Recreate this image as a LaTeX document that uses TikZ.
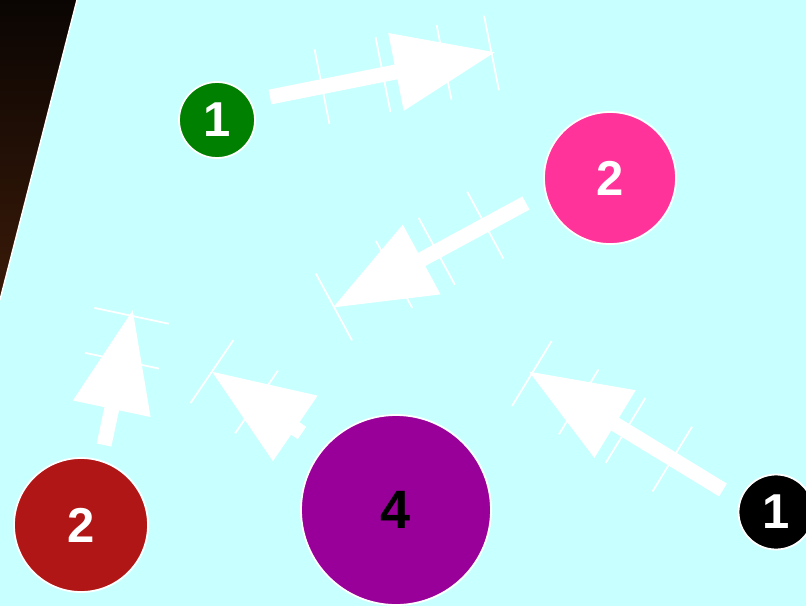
\documentclass[tikz,border=0pt]{standalone}
\usepackage{fontspec}
\setmainfont{Liberation Sans}
\usetikzlibrary{calc,arrows.meta}
\definecolor{sky}{RGB}{200,255,255}
\definecolor{leafgreen}{RGB}{0,128,0}
\definecolor{rose}{RGB}{255,51,153}
\definecolor{brick}{RGB}{176,22,22}
\definecolor{plum}{RGB}{153,0,153}
\definecolor{earthtop}{RGB}{10,5,3}
\definecolor{earthbot}{RGB}{58,26,8}
\tikzset{
  ball/.style={circle,draw=white,line width=1.8pt,inner sep=0pt,text=white,
    font=\fontsize{49}{49}\selectfont\bfseries},
  vec/.style={white,line width=15pt,-{Triangle[length=102pt,width=75pt]}},
  tick/.style={white,line width=1.8pt}
}

\begin{document}
\begin{tikzpicture}[x=1pt,y=-1pt]
  \useasboundingbox (0,0) rectangle (806,606);
  \fill[sky] (0,0) rectangle (806,606);
  \shade[top color=earthtop,bottom color=earthbot] (0,0)--(77,0)--(0,300)--cycle;
  \draw[white,line width=1.5pt] (77,0)--(0,300);
  % vectors: tail T, head H
  \coordinate (T1) at (270,97);  \coordinate (H1) at (496,52);
  \coordinate (T2) at (526,203); \coordinate (H2) at (332,308);
  \coordinate (T3) at (104,445); \coordinate (H3) at (133,309);
  \coordinate (T4) at (302,433); \coordinate (H4) at (211,371);
  \coordinate (T5) at (723,490); \coordinate (H5) at (528,371);
  \foreach \t/\h/\fl in {T1/H1/{0.23,0.5,0.77,0.98},T2/H2/{0.21,0.46,0.68,0.99},
      T3/H3/{0.62,0.95},T4/H4/{0.5,0.99},T5/H5/{0.26,0.5,0.74,0.98}}{
    \foreach \f in \fl{
      \coordinate (M) at ($(\t)!\f!(\h)$);
      \draw[tick] ($(M)!38pt!90:(\h)$)--($(M)!38pt!-90:(\h)$);
    }
    \draw[vec] (\t)--(\h);
  }
  % particles
  \node[ball,fill=leafgreen,minimum size=76pt] (g1) at (217,120) {1};
  \node[ball,fill=rose,minimum size=132pt] (p2) at (610,178) {2};
  \node[ball,fill=brick,minimum size=134pt] (r2) at (81,525) {2};
  \node[ball,fill=plum,minimum size=190pt,text=black,
    font=\fontsize{54}{54}\selectfont\bfseries] (v4) at (396,510) {4};
  \node[ball,fill=black,minimum size=75pt] (k1) at (776,512) {1};
\end{tikzpicture}
\end{document}
